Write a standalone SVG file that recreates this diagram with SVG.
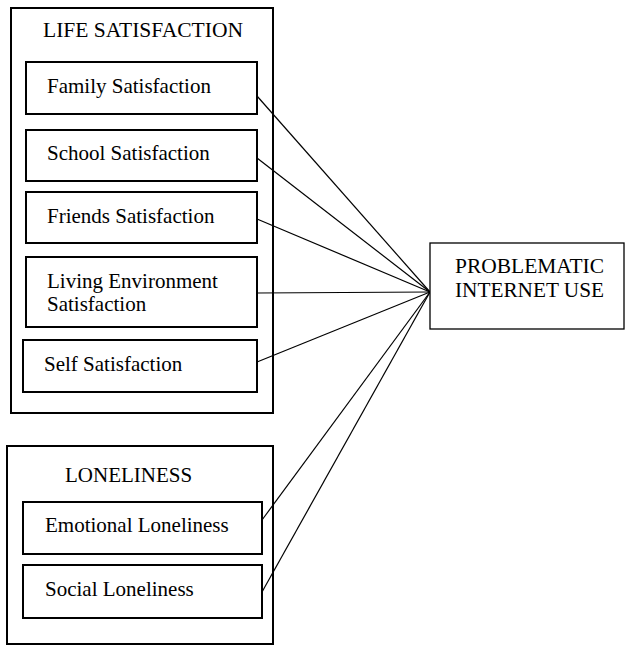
<svg xmlns="http://www.w3.org/2000/svg" width="628" height="646" viewBox="0 0 628 646">
<style>
.outer{fill:none;stroke:#000;stroke-width:2}
.inner{fill:#fff;stroke:#000;stroke-width:2}
.thin{fill:#fff;stroke:#000;stroke-width:1.3}
.t{font-family:"Liberation Serif","Times New Roman",serif;font-size:21px;fill:#000}
.c{stroke:#000;stroke-width:1.2;fill:none}
</style>
<rect width="628" height="646" fill="#fff"/>
<g id="life-satisfaction">
<rect class="outer" x="11" y="8" width="262" height="405"/>
<text class="t" x="43" y="37" textLength="200" lengthAdjust="spacingAndGlyphs">LIFE SATISFACTION</text>
</g>
<g id="loneliness">
<rect class="outer" x="7" y="446" width="266" height="198"/>
<text class="t" x="65" y="482">LONELINESS</text>
</g>
<g id="connectors">
<line class="c" x1="257" y1="96" x2="430" y2="292"/>
<line class="c" x1="257" y1="158" x2="430" y2="292"/>
<line class="c" x1="257" y1="219" x2="430" y2="292"/>
<line class="c" x1="257" y1="293" x2="430" y2="292"/>
<line class="c" x1="257" y1="362" x2="430" y2="292"/>
<line class="c" x1="262" y1="520" x2="430" y2="292"/>
<line class="c" x1="262" y1="592" x2="430" y2="292"/>
</g>
<g id="family">
<rect class="inner" x="26" y="62" width="231" height="52"/>
<text class="t" x="47" y="93">Family Satisfaction</text>
</g>
<g id="school">
<rect class="inner" x="26" y="130" width="231" height="51"/>
<text class="t" x="47" y="160">School Satisfaction</text>
</g>
<g id="friends">
<rect class="inner" x="26" y="192" width="231" height="51"/>
<text class="t" x="47" y="223">Friends Satisfaction</text>
</g>
<g id="living">
<rect class="inner" x="26" y="257" width="231" height="70"/>
<text class="t" x="47" y="288">Living Environment</text>
<text class="t" x="47" y="311">Satisfaction</text>
</g>
<g id="self">
<rect class="inner" x="23" y="340" width="234" height="52"/>
<text class="t" x="44" y="371">Self Satisfaction</text>
</g>
<g id="emotional">
<rect class="inner" x="23" y="502" width="239" height="52"/>
<text class="t" x="45" y="532">Emotional Loneliness</text>
</g>
<g id="social">
<rect class="inner" x="23" y="565" width="239" height="53"/>
<text class="t" x="45" y="596">Social Loneliness</text>
</g>
<g id="piu">
<rect class="thin" x="430" y="243" width="194" height="86"/>
<text class="t" x="455" y="273" textLength="149" lengthAdjust="spacingAndGlyphs">PROBLEMATIC</text>
<text class="t" x="455" y="297" textLength="149" lengthAdjust="spacingAndGlyphs">INTERNET USE</text>
</g>
</svg>
